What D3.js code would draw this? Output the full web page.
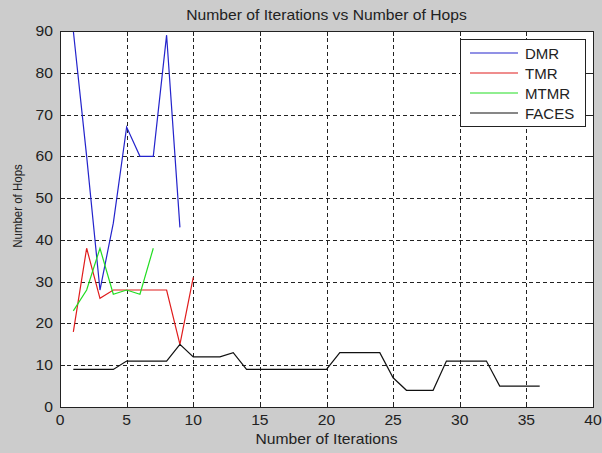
<!DOCTYPE html>
<html>
<head>
<meta charset="utf-8">
<script src="https://cdn.jsdelivr.net/npm/d3@7"></script>
<style>
  html, body { margin: 0; padding: 0; background: #cccccc; }
  svg { display: block; }
  text { font-family: Arial, "Liberation Sans", sans-serif; fill: #222; }
</style>
</head>
<body>
<div id="chart"></div>
<script>
// Data
const iterations = d3.range(1, 37);
const dmr   = [90, 60, 28, 44, 67, 60, 60, 89, 43];
const tmr   = [18, 38, 26, 28, 28, 28, 28, 28, 15, 31];
const mtmr  = [23, 28, 38, 27, 28, 27, 38];
const faces = [9, 9, 9, 9, 11, 11, 11, 11, 15, 12, 12, 12, 13, 9, 9, 9, 9, 9, 9, 9,
               13, 13, 13, 13, 7, 4, 4, 4, 11, 11, 11, 11, 5, 5, 5, 5];
const seriesNames = ['DMR', 'TMR', 'MTMR', 'FACES'];
const seriesColors = ['#2424cc', '#e01c1c', '#22dd22', '#111111'];
const xTicks = [0, 5, 10, 15, 20, 25, 30, 35, 40];
const yTicks = [0, 10, 20, 30, 40, 50, 60, 70, 80, 90];

const series = [dmr, tmr, mtmr, faces].map((vals, i) => ({
  name: seriesNames[i],
  color: seriesColors[i],
  points: vals.map((v, j) => ({x: iterations[j], y: v}))
}));

const config = {
  width: 602, height: 453,
  margin: {top: 31, right: 9, bottom: 46, left: 60},
  stretch: 1.12
};

const svg = d3.select('#chart').append('svg')
    .attr('width', config.width)
    .attr('height', config.height);

const plotLeft = config.margin.left,
      plotRight = config.width - config.margin.right,
      plotTop = config.margin.top,
      plotBottom = config.height - config.margin.bottom;

const x = d3.scaleLinear().domain([0, 40]).range([plotLeft, plotRight]);
const y = d3.scaleLinear().domain([0, 90]).range([plotBottom, plotTop]);

// white plot area
svg.append('rect')
    .attr('x', plotLeft).attr('y', plotTop)
    .attr('width', plotRight - plotLeft).attr('height', plotBottom - plotTop)
    .attr('fill', '#fff');

svg.append('clipPath').attr('id', 'plot-clip')
  .append('rect')
    .attr('x', plotLeft).attr('y', plotTop - 1)
    .attr('width', plotRight - plotLeft).attr('height', plotBottom - plotTop + 2);

// dashed grid
const grid = svg.append('g').attr('class', 'grid')
    .attr('stroke', '#222').attr('stroke-width', 1)
    .attr('stroke-dasharray', '4,3');

grid.selectAll('.vgrid')
  .data(xTicks.slice(1, -1))
  .join('line')
    .attr('x1', d => Math.round(x(d)) + 0.5).attr('x2', d => Math.round(x(d)) + 0.5)
    .attr('y1', plotTop).attr('y2', plotBottom);

grid.selectAll('.hgrid')
  .data(yTicks.slice(1, -1))
  .join('line')
    .attr('y1', d => Math.round(y(d)) + 0.5).attr('y2', d => Math.round(y(d)) + 0.5)
    .attr('x1', plotLeft).attr('x2', plotRight);

// tick marks on all four sides
const tickLen = 5;
const ticks = svg.append('g').attr('stroke', '#222').attr('stroke-width', 1);
xTicks.forEach(t => {
  const px = Math.round(x(t)) + 0.5;
  ticks.append('line').attr('x1', px).attr('x2', px).attr('y1', plotBottom).attr('y2', plotBottom - tickLen);
  ticks.append('line').attr('x1', px).attr('x2', px).attr('y1', plotTop).attr('y2', plotTop + tickLen);
});
yTicks.forEach(t => {
  const py = Math.round(y(t)) + 0.5;
  ticks.append('line').attr('y1', py).attr('y2', py).attr('x1', plotLeft).attr('x2', plotLeft + tickLen);
  ticks.append('line').attr('y1', py).attr('y2', py).attr('x1', plotRight).attr('x2', plotRight - tickLen);
});

// series lines
const line = d3.line().x(d => x(d.x)).y(d => y(d.y));
svg.append('g').attr('clip-path', 'url(#plot-clip)')
  .selectAll('path')
  .data(series)
  .join('path')
    .attr('d', d => line(d.points))
    .attr('fill', 'none')
    .attr('stroke', d => d.color)
    .attr('stroke-width', 1.2);

// box
svg.append('rect')
    .attr('x', plotLeft + 0.5).attr('y', plotTop + 0.5)
    .attr('width', plotRight - plotLeft).attr('height', plotBottom - plotTop)
    .attr('fill', 'none').attr('stroke', '#222');

// text helper: the picture's glyphs are slightly wider than tall
function stretchedText(g, px, py, str, size, anchor) {
  return g.append('text')
    .attr('transform', `translate(${px},${py}) scale(${config.stretch},1)`)
    .attr('text-anchor', anchor)
    .style('font-size', size + 'px')
    .text(str);
}

const labels = svg.append('g');
xTicks.forEach(t => stretchedText(labels, x(t), plotBottom + 18, t, 14, 'middle'));
yTicks.forEach(t => stretchedText(labels, plotLeft - 7, y(t) + 5, t, 14, 'end'));

// titles
stretchedText(labels, (plotLeft + plotRight) / 2, 20, 'Number of Iterations vs Number of Hops', 14, 'middle');
stretchedText(labels, (plotLeft + plotRight) / 2, 444, 'Number of Iterations', 14, 'middle');
labels.append('text')
    .attr('transform', 'translate(21.5,206) rotate(-90) scale(1,1.12)')
    .attr('text-anchor', 'middle')
    .style('font-size', '11.5px')
    .text('Number of Hops');

// legend
const legend = svg.append('g').attr('class', 'legend');
legend.append('rect')
    .attr('x', 460.5).attr('y', 39.5)
    .attr('width', 125).attr('height', 87)
    .attr('fill', '#fff').attr('stroke', '#222');

const legendRow = d3.scalePoint().domain(seriesNames).range([53, 113]);
series.forEach(s => {
  const ly = legendRow(s.name);
  legend.append('line')
      .attr('x1', 470).attr('x2', 518)
      .attr('y1', ly).attr('y2', ly)
      .attr('stroke', s.color).attr('stroke-width', 1.2);
  legend.append('text')
      .attr('x', 525).attr('y', ly + 5.5)
      .style('font-size', '15px')
      .text(s.name);
});
</script>
</body>
</html>
